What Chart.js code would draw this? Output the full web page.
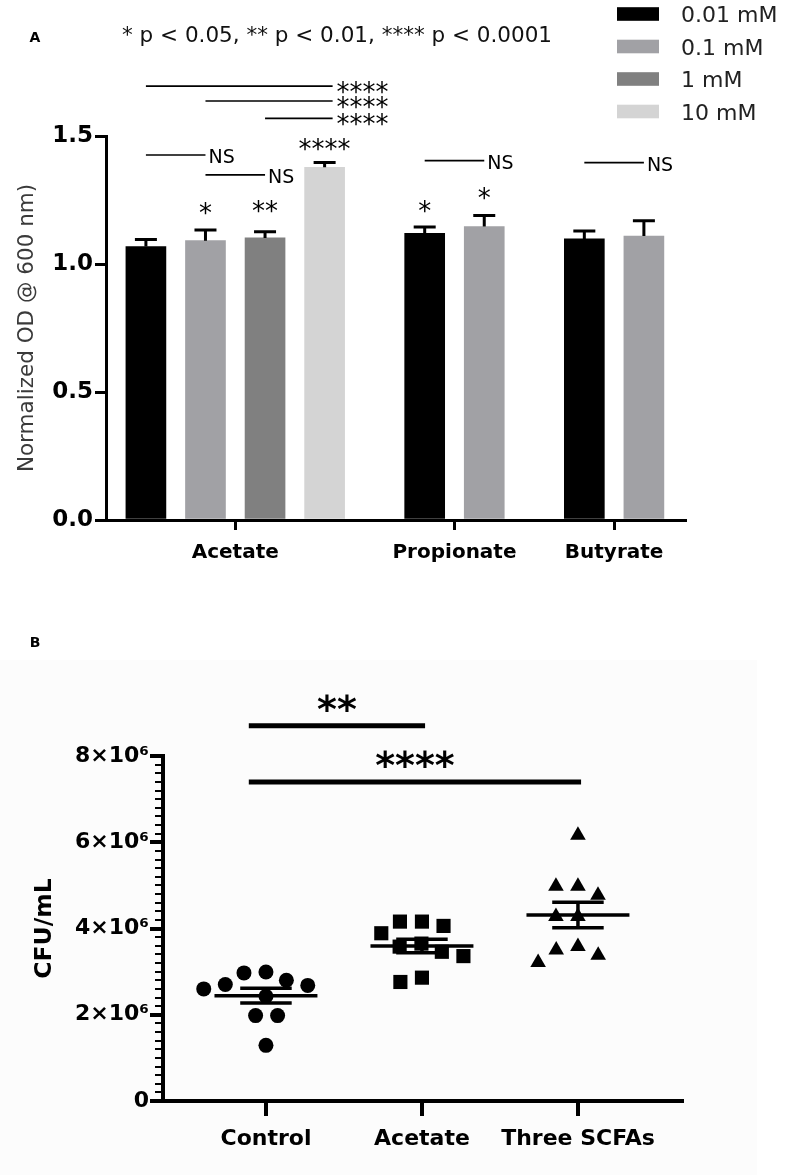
<!DOCTYPE html>
<html>
<head>
<meta charset="utf-8">
<script src="https://cdn.jsdelivr.net/npm/chart.js@4.4.1/dist/chart.umd.min.js"></script>
<style>
  html, body { margin: 0; padding: 0; background: #fff; }
  body { width: 785px; height: 1175px; position: relative; overflow: hidden; }
  #bgB { position: absolute; left: 0; top: 660px; width: 757px; height: 515px; background: #fcfcfc; }
  #chartA { position: absolute; left: 0; top: 0; }
  #chartB { position: absolute; left: 0; top: 590px; }
</style>
</head>
<body>
<div id="bgB"></div>
<canvas id="chartA" width="785" height="590"></canvas>
<canvas id="chartB" width="785" height="585"></canvas>
<script>
var FONT = "'DejaVu Sans', 'Liberation Sans', Arial, sans-serif";

// ---------- panel A : normalized OD ----------
var acids = ["Acetate", "Propionate", "Butyrate"];
var concLabels = ["0.01 mM", "0.1 mM", "1 mM", "10 mM"];
var concColors = ["#000000", "#a1a1a5", "#808080", "#d4d4d4"];
var od001 = [1.068, 1.120, 1.098];
var od01 = [1.091, 1.146, 1.109];
var od1 = [1.102, null, null];
var od10 = [1.378, null, null];
var sem001 = [0.028, 0.025, 0.031];
var sem01 = [0.042, 0.043, 0.060];
var sem1 = [0.024, null, null];
var sem10 = [0.018, null, null];
var pTitle = "* p < 0.05, ** p < 0.01, **** p < 0.0001";

// comparison lines: acid, bar from / to (concentration index), height, label
var bracketsA = [
  { acid: 0, from: 0, to: 3, level: 1.695, mark: "****" },
  { acid: 0, from: 1, to: 3, level: 1.637, mark: "****" },
  { acid: 0, from: 2, to: 3, level: 1.569, mark: "****" },
  { acid: 0, from: 0, to: 1, level: 1.426, mark: "NS" },
  { acid: 0, from: 1, to: 2, level: 1.348, mark: "NS" },
  { acid: 1, from: 0, to: 1, level: 1.404, mark: "NS" },
  { acid: 2, from: 0, to: 1, level: 1.396, mark: "NS" }
];
// stars above single bars (vs. control)
var marksA = [
  { acid: 0, conc: 1, level: 1.217, mark: "*" },
  { acid: 0, conc: 2, level: 1.224, mark: "**" },
  { acid: 0, conc: 3, level: 1.466, mark: "****" },
  { acid: 1, conc: 0, level: 1.223, mark: "*" },
  { acid: 1, conc: 1, level: 1.276, mark: "*" }
];

// ---------- panel B : CFU/mL ----------
var groupsB = ["Control", "Acetate", "Three SCFAs"];
var cfuControl = [2.97e6, 2.99e6, 2.80e6, 2.70e6, 2.68e6, 2.60e6, 2.43e6, 1.98e6, 1.98e6, 1.29e6];
var cfuAcetate = [3.89e6, 3.46e6, 4.06e6, 3.36e6, 2.76e6, 4.16e6, 3.58e6, 2.86e6, 4.16e6, 3.65e6];
var cfuScfas = [6.16e6, 4.77e6, 4.98e6, 4.98e6, 4.28e6, 4.28e6, 3.58e6, 3.50e6, 3.38e6, 3.21e6];
var sigB = [
  { from: 0, to: 1, level: 8.70e6, mark: "**" },
  { from: 0, to: 2, level: 7.40e6, mark: "****" }
];

Chart.defaults.font.family = FONT;
Chart.defaults.color = "#000";

// text centred on its ink (or on the ink of a reference glyph)
function inkText(ctx, text, x, yc, align, ref) {
  ctx.textAlign = align || "left";
  ctx.textBaseline = "alphabetic";
  var m = ctx.measureText(ref || text);
  ctx.fillText(text, x, yc + (m.actualBoundingBoxAscent - m.actualBoundingBoxDescent) / 2);
}

// ----- bar positions: bars side by side, a gap between acids -----
var seriesOD = [od001, od01, od1, od10];
var seriesSem = [sem001, sem01, sem1, sem10];
var GROUP_GAP = 0.68;
var barPos = [];
var groupCenter = [];
var cursor = 0;
acids.forEach(function (name, a) {
  barPos[a] = [];
  var first = cursor, last = cursor;
  seriesOD.forEach(function (s, k) {
    if (s[a] === null) return;
    barPos[a][k] = cursor;
    last = cursor;
    cursor += 1;
  });
  groupCenter.push((first + last) / 2);
  cursor += GROUP_GAP;
});
var lastBar = cursor - GROUP_GAP - 1;

var datasetsA = concLabels.map(function (label, k) {
  var pts = [], errs = [];
  acids.forEach(function (n, a) {
    if (seriesOD[k][a] === null) return;
    pts.push({ x: barPos[a][k], y: seriesOD[k][a] });
    errs.push(seriesSem[k][a]);
  });
  return {
    label: label,
    data: pts,
    sem: errs,
    backgroundColor: concColors[k],
    borderWidth: 0,
    barThickness: 40,
    grouped: false
  };
});

var extrasA = {
  id: "extrasA",
  afterDraw: function (chart) {
    var ctx = chart.ctx, xs = chart.scales.x, ys = chart.scales.y;
    ctx.save();
    ctx.fillStyle = "#000";
    ctx.strokeStyle = "#000";

    // error bars (upper only)
    ctx.lineWidth = 3;
    chart.data.datasets.forEach(function (ds, d) {
      chart.getDatasetMeta(d).data.forEach(function (bar, i) {
        var top = ys.getPixelForValue(ds.data[i].y + ds.sem[i]);
        ctx.beginPath();
        ctx.moveTo(bar.x, bar.y);
        ctx.lineTo(bar.x, top);
        ctx.moveTo(bar.x - 11, top);
        ctx.lineTo(bar.x + 11, top);
        ctx.stroke();
      });
    });

    // comparison lines
    ctx.lineWidth = 1.6;
    bracketsA.forEach(function (b) {
      var x1 = xs.getPixelForValue(barPos[b.acid][b.from]);
      var x2 = xs.getPixelForValue(barPos[b.acid][b.to]);
      var y = ys.getPixelForValue(b.level);
      ctx.beginPath();
      ctx.moveTo(x1, y);
      ctx.lineTo(x2 + (b.mark === "NS" ? 0 : 8), y);
      ctx.stroke();
      ctx.font = b.mark === "NS" ? "19px " + FONT : "26px " + FONT;
      inkText(ctx, b.mark, x2 + (b.mark === "NS" ? 3 : 12), y + 1.5, "left");
    });

    // stars over bars
    ctx.font = "26px " + FONT;
    marksA.forEach(function (m) {
      inkText(ctx, m.mark, xs.getPixelForValue(barPos[m.acid][m.conc]),
        ys.getPixelForValue(m.level), "center");
    });

    // panel letter and p-value key
    ctx.font = "bold 14px " + FONT;
    inkText(ctx, "A", 35, 37, "center");
    ctx.font = "21.5px " + FONT;
    ctx.fillStyle = "#111";
    inkText(ctx, pTitle, 122, 34, "left", "0");

    // legend
    chart.data.datasets.forEach(function (ds, k) {
      var yc = 14 + k * 32.5;
      ctx.fillStyle = ds.backgroundColor;
      ctx.fillRect(617, yc - 6.8, 42, 13.6);
      ctx.fillStyle = "#222";
      ctx.font = "22px " + FONT;
      inkText(ctx, ds.label, 681, yc, "left", "0");
    });
    ctx.restore();
  }
};

new Chart(document.getElementById("chartA"), {
  type: "bar",
  data: { datasets: datasetsA },
  options: {
    responsive: false,
    animation: false,
    layout: { padding: { left: 0, right: 100, top: 136, bottom: 0 } },
    plugins: { legend: { display: false }, tooltip: { enabled: false } },
    scales: {
      x: {
        type: "linear",
        min: -0.67,
        max: lastBar + 0.69,
        offset: false,
        afterBuildTicks: function (scale) {
          scale.ticks = groupCenter.map(function (v) { return { value: v }; });
        },
        afterFit: function (scale) { scale.height = 70; },
        ticks: {
          autoSkip: false,
          maxRotation: 0,
          padding: 11,
          font: { size: 20, weight: "bold" },
          callback: function (v, i) { return acids[i]; }
        },
        grid: { offset: false, drawOnChartArea: false, tickLength: 10, lineWidth: 3, color: "#000" },
        border: { color: "#000", width: 3 }
      },
      y: {
        min: 0,
        max: 1.5,
        afterFit: function (scale) { scale.width = 106; },
        ticks: {
          stepSize: 0.5,
          padding: 2,
          font: { size: 23, weight: "bold" },
          callback: function (v) { return v.toFixed(1); }
        },
        grid: { drawOnChartArea: false, tickLength: 11, lineWidth: 3, color: "#000" },
        border: { color: "#000", width: 3 },
        title: {
          display: true,
          text: "Normalized OD @ 600 nm)",
          color: "#3a3a3a",
          font: { size: 21.5 },
          padding: { top: 15, bottom: 0 }
        }
      }
    }
  },
  plugins: [extrasA]
});

// ----- panel B -----
var cfuSeries = [cfuControl, cfuAcetate, cfuScfas];
var markerStyles = ["circle", "rect", "triangle"];
var markerRadius = [7.5, 10, 9];
var PX_PER_X = 156, PX_PER_Y = 345 / 8e6, MIN_DIST = 22;

// simple beeswarm: spread points sideways until they stop overlapping
function swarm(values) {
  var order = values.map(function (v, i) { return i; })
    .sort(function (a, b) { return values[b] - values[a]; });
  var placed = [], off = [];
  order.forEach(function (i) {
    var y = values[i] * PX_PER_Y;
    var cands = [0];
    placed.forEach(function (p) {
      var dy = y - p.y;
      if (Math.abs(dy) < MIN_DIST) {
        var dx = Math.sqrt(MIN_DIST * MIN_DIST - dy * dy);
        cands.push(p.x - dx, p.x + dx);
      }
    });
    cands.sort(function (a, b) { return Math.abs(a) - Math.abs(b) || a - b; });
    var x = cands.find(function (c) {
      return placed.every(function (p) {
        var dx = c - p.x, dy = y - p.y;
        return dx * dx + dy * dy >= MIN_DIST * MIN_DIST - 0.01;
      });
    });
    placed.push({ x: x, y: y });
    off[i] = x / PX_PER_X;
  });
  return off;
}

function meanSem(v) {
  var n = v.length;
  var m = v.reduce(function (s, x) { return s + x; }, 0) / n;
  var ss = v.reduce(function (s, x) { return s + (x - m) * (x - m); }, 0);
  return [m, Math.sqrt(ss / (n - 1)) / Math.sqrt(n)];
}

var datasetsB = [];
cfuSeries.forEach(function (vals, g) {
  var ms = meanSem(vals), m = ms[0], s = ms[1];
  datasetsB.push({
    label: groupsB[g] + " mean ± SEM",
    showLine: true,
    spanGaps: false,
    borderColor: "#000",
    borderWidth: 3.5,
    pointRadius: 0,
    data: [
      { x: g - 0.33, y: m }, { x: g + 0.33, y: m }, { x: g, y: null },
      { x: g - 0.165, y: m + s }, { x: g + 0.165, y: m + s }, { x: g, y: null },
      { x: g - 0.165, y: m - s }, { x: g + 0.165, y: m - s }, { x: g, y: null },
      { x: g, y: m + s }, { x: g, y: m - s }
    ]
  });
});
cfuSeries.forEach(function (vals, g) {
  var off = swarm(vals);
  datasetsB.push({
    label: groupsB[g],
    data: vals.map(function (v, i) { return { x: g + off[i], y: v }; }),
    pointStyle: markerStyles[g],
    pointRadius: markerRadius[g],
    backgroundColor: "#000",
    borderWidth: 0,
    showLine: false
  });
});

var extrasB = {
  id: "extrasB",
  afterDraw: function (chart) {
    var ctx = chart.ctx, xs = chart.scales.x, ys = chart.scales.y;
    var left = chart.chartArea.left;
    ctx.save();
    ctx.strokeStyle = "#000";
    ctx.fillStyle = "#000";

    // minor ticks every 0.2 x 10^6
    ctx.lineWidth = 2;
    for (var v = 0; v <= 8e6 + 1; v += 2e5) {
      if (Math.round(v / 2e5) % 10 === 0) continue;
      var y = Math.round(ys.getPixelForValue(v));
      ctx.beginPath();
      ctx.moveTo(left - 8, y);
      ctx.lineTo(left, y);
      ctx.stroke();
    }

    // significance bars
    ctx.lineWidth = 5;
    sigB.forEach(function (b) {
      var x1 = xs.getPixelForValue(b.from - 0.11);
      var x2 = xs.getPixelForValue(b.to + 0.02);
      var y = ys.getPixelForValue(b.level);
      ctx.beginPath();
      ctx.moveTo(x1, y);
      ctx.lineTo(x2, y);
      ctx.stroke();
      ctx.font = "bold 38px " + FONT;
      inkText(ctx, b.mark, (x1 + x2) / 2, y - 23, "center");
    });

    ctx.font = "bold 14px " + FONT;
    inkText(ctx, "B", 35, 52, "center");
    ctx.restore();
  }
};

new Chart(document.getElementById("chartB"), {
  type: "scatter",
  data: { datasets: datasetsB },
  options: {
    responsive: false,
    animation: false,
    layout: { padding: { left: 0, right: 103, top: 166, bottom: 0 } },
    plugins: { legend: { display: false }, tooltip: { enabled: false } },
    scales: {
      x: {
        type: "linear",
        min: -0.66,
        max: 2.667,
        afterBuildTicks: function (scale) {
          scale.ticks = groupsB.map(function (n, i) { return { value: i }; });
        },
        afterFit: function (scale) { scale.height = 74; },
        ticks: {
          autoSkip: false,
          maxRotation: 0,
          padding: 10,
          font: { size: 22, weight: "bold" },
          callback: function (v, i) { return groupsB[i]; }
        },
        grid: { drawOnChartArea: false, tickLength: 15, lineWidth: 4, color: "#000" },
        border: { color: "#000", width: 4 }
      },
      y: {
        min: 0,
        max: 8e6,
        afterFit: function (scale) { scale.width = 163; },
        ticks: {
          stepSize: 2e6,
          padding: 1,
          font: { size: 22, weight: "bold" },
          callback: function (v) { return v === 0 ? "0" : (v / 1e6) + "×10⁶"; }
        },
        grid: { drawOnChartArea: false, tickLength: 13, lineWidth: 4, color: "#000" },
        border: { color: "#000", width: 4 },
        title: {
          display: true,
          text: "CFU/mL",
          font: { size: 23.5, weight: "bold" },
          padding: { top: 31, bottom: 0 }
        }
      }
    }
  },
  plugins: [extrasB]
});
</script>
</body>
</html>
